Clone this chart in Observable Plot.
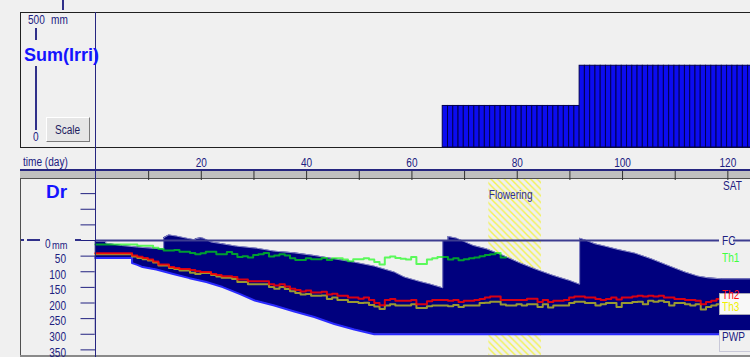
<!DOCTYPE html>
<html><head><meta charset="utf-8">
<script src="https://cdn.jsdelivr.net/npm/d3@7"></script>
<script src="https://cdn.jsdelivr.net/npm/@observablehq/plot@0.6"></script>
<style>
html,body{margin:0;padding:0;background:#f0f0f0;}
#wrap{position:relative;width:750px;height:357px;overflow:hidden;background:#f0f0f0;font-family:"Liberation Sans",Arial,sans-serif;color:#202080;}
.a{position:absolute;white-space:nowrap;}
.t{font-size:12px;line-height:12px;transform:scaleX(0.84);transform-origin:0 50%;}
svg{position:absolute;left:0;}
</style>
</head><body>
<div id="wrap">
  <!-- decorations behind -->
  <div class="a" style="left:62px;top:0;width:2px;height:10px;background:#30308a"></div>
  <div class="a" style="left:19.5px;top:12px;width:760px;height:133.5px;border:1.5px solid #202020;"></div>
  <div class="a" style="left:20px;top:169px;width:740px;height:1.5px;background:#262680"></div>
  <div class="a" style="left:20px;top:170.5px;width:740px;height:7.3px;background:#c0c0c0"></div>
  <div class="a" style="left:20px;top:177.7px;width:740px;height:1.6px;background:#505050"></div>
  <div class="a" style="left:19.5px;top:179px;width:1.5px;height:180px;background:#505050"></div>
  <div class="a" style="left:20px;top:354.5px;width:740px;height:2px;background:#8a8a8a"></div>
  <div id="top" class="a" style="left:0;top:0;width:750px;height:150px"></div>
  <div id="bot" class="a" style="left:0;top:150px;width:750px;height:207px"></div>
  <!-- vertical axis line -->
  <div class="a" style="left:94.6px;top:12px;width:1.6px;height:345px;background:#262680"></div>
  <!-- top panel labels -->
  <div class="a t" style="left:28px;top:14px">500</div>
  <div class="a t" style="left:51px;top:14px">mm</div>
  <div class="a" style="left:35px;top:28px;width:2px;height:12px;background:#30308a"></div>
  <div class="a" style="left:35px;top:66px;width:2px;height:64px;background:#30308a"></div>
  <div class="a" style="left:24px;top:44px;font-weight:bold;font-size:18px;line-height:22px;color:#1414ff">Sum(Irri)</div>
  <div class="a t" style="left:33px;top:131px">0</div>
  <div class="a" style="left:46px;top:117px;width:42px;height:23px;background:#e6e6e6;border:1px solid;border-color:#ffffff #7a7a7a #7a7a7a #ffffff;"></div>
  <div class="a t" style="left:55px;top:124px;color:#202060">Scale</div>
  <div class="a t" style="left:23px;top:156px">time (day)</div>
  <!-- bottom panel labels -->
  <div class="a" style="left:46px;top:181px;font-weight:bold;font-size:19px;line-height:22px;color:#1414ff">Dr</div>
  <div class="a" style="left:21px;top:239px;width:2.5px;height:1.6px;background:#30308a"></div>
  <div class="a" style="left:27px;top:239px;width:13px;height:1.6px;background:#30308a"></div>
  <div class="a" style="left:75px;top:239.2px;width:6px;height:1.4px;background:#30308a"></div>
  <div class="a t" style="left:45px;top:238px">0</div>
  <div class="a t" style="left:52px;top:239px;font-size:11px">mm</div>
  <div class="a t" style="left:723px;top:180px">SAT</div>
  <div class="a" style="left:719px;top:234px;width:14px;height:13px;background:#f0f0f0"></div>
  <div class="a t" style="left:722px;top:235px">FC</div>
  <div class="a t" style="left:722px;top:252px;color:#40ff40">Th1</div>
  <div class="a" style="left:719px;top:292.5px;width:40px;height:20px;background:#f8f8f8;border:1px solid #a8a8b8"></div>
  <div class="a t" style="left:722px;top:290px;line-height:10px;color:#ff1010">Th2</div>
  <div class="a t" style="left:722px;top:302px;line-height:10px;color:#f0f000">Th3</div>
  <div class="a" style="left:719px;top:330px;width:40px;height:20px;background:#f0f0f0;border:1px solid #c8c8d8"></div>
  <div class="a t" style="left:722px;top:331px">PWP</div>
</div>
<script>
// ---------- data ----------
const irriDays = [66, 92];            // irrigation events (day)
const irriAmounts = [155, 150];       // mm applied
const floweringDays = [74.6, 84.6];   // flowering period

const drDays = [0,2,2,5,8,11,13,13,14,15.5,17.3,19,19,20,20.5,21.2,22,24.2,26.8,30.6,34,37.8,41.6,45.4,49.2,53,56.8,58.7,60.6,61.6,63.5,66,66,67,67,68.6,69.9,71.8,74.3,77.5,80.6,83.8,87,90.1,92,92,93.3,94.9,96.8,99.3,102.5,105.6,108.8,112,114.5,116.4,118.9,125];
const drVals = [3,3,8.5,16,21,25,27,-8.5,-18,-14,-7.5,-2,-5.3,-8.5,-7.5,-2,5,10.7,18,24.5,34,39.5,48,58.7,69.3,82,101,117,126,131,139,151.5,0,0,-12.8,-7.5,2,16,26.7,48,71.5,92.8,112,128,140,-7.5,0,10.7,18,28.8,40.5,58.7,80,101,114,119.5,122.7,122.7];

const tawDays = [0,7,7,8,9,11.6,14.8,17.9,21.1,24.2,27.4,30.3,34,37.8,41.6,45.4,49.2,53,125];
const tawVals = [56,56,72.5,78,85,93,107,120.5,133,149,171,192,208,227,245,267,285,300,300];

const th1Days = [0,8,11,12,13,15,16,18,19,20,21,23,25,26,27,28,29,30,31,32,33,34,35,36,37,38,40,41,43,44,45,47,48,49,51,52,53,54,55,56,57,58,59,60,61,63,64,65,67,68,69,70,71,72,73,74,75,76,77,78];
const th1Vals = [13,17,23,27,32,30,36,40,44,41,36,44,37,43,53,50,54,46,44,40,51,48,44,48,57,62,57,60,56,62,57,61,66,60,57,61,69,77,54,51,56,58,61,53,75,61,57,53,61,57,63,60,57,54,50,46,44,40,54,54];

const th23Days = [0,7,8,9,10,11,12,14,15,16,18,19,20,22,23,24,26,27,29,33,34,35,36,37,38,39,40,41,43,44,45,46,48,50,51,52,53,54,55,56,57,60,61,63,64,67,68,69,70,72,73,74,75,77,78,80,81,82,84,85,86,87,89,90,91,93,95,96,97,98,99,100,102,103,104,105,106,107,108,109,110,112,113,114,115,116,117,118,120,125];
const th2Vals = [41,48,52,56,61,67,77,85,88,91,94,98,101,107,110,114,117,125,130,140,144,140,147,154,158,163,160,166,164,173,170,177,182,186,182,190,200,207,190,187,193,190,204,194,190,193,190,197,193,190,187,182,179,190,190,190,190,186,197,190,197,193,190,182,179,182,187,190,187,182,189,182,179,177,179,177,179,177,182,182,187,190,190,193,204,197,193,187,182,182];
const th3Vals = [44,51,56,60,64,70,80,88,91,96,103,107,104,110,115,119,123,133,140,149,154,149,155,162,168,173,171,177,176,187,182,190,197,200,199,206,211,219,208,204,208,204,216,210,208,210,206,213,208,208,200,199,196,205,208,204,208,204,213,204,214,208,208,200,196,200,208,204,200,200,213,200,197,196,204,193,196,193,197,208,200,204,208,204,221,213,208,204,197,197];

const timeTicks = [10,20,30,40,50,60,70,80,90,100,110,120];
const drTicks = [-150,-100,-50,0,50,100,150,200,250,300,350];
const FC = 0, PWP = 300;

// ---------- build tables ----------
const OFF = 0.15;
const zip = (xs, ys) => xs.map((d, i) => ({day: d - OFF, v: ys[i]}));
const dr = zip(drDays, drVals);
const taw = zip(tawDays, tawVals);
const tawMask = taw.filter(d => d.day < 53);
const th1 = zip(th1Days, th1Vals);
const th2 = zip(th23Days, th2Vals);
const th3 = zip(th23Days, th3Vals);
const sumIrri = [];
let cum = 0;
for (let d = 0; d <= 124; d++) {
  const k = irriDays.indexOf(d);
  if (k >= 0) cum += irriAmounts[k];
  if (cum > 0) sumIrri.push({day: d - OFF, sum: cum});
}

const XDOM = [0, 124.3];
const font = "'Liberation Sans',Arial,sans-serif";

const topPlot = Plot.plot({
  width: 750, height: 150,
  marginLeft: 95.5, marginRight: 0, marginTop: 13, marginBottom: 3,
  x: {domain: XDOM, axis: null},
  y: {domain: [0, 500], axis: null},
  style: {background: "transparent", overflow: "visible"},
  marks: [
    Plot.rectY(sumIrri, {x1: "day", x2: d => d.day + 1, y: "sum", fill: "#0c0cf0", stroke: "#000050", strokeWidth: 1})
  ]
});
document.getElementById("top").appendChild(topPlot);

const botPlot = Plot.plot({
  width: 750, height: 207,
  marginLeft: 95.5, marginRight: 0, marginTop: 29, marginBottom: 2,
  x: {domain: XDOM, axis: "top", ticks: timeTicks, tickSize: 9, tickPadding: 4,
      tickFormat: d => d % 20 === 0 ? String(d) : "", label: null},
  y: {domain: [-195.2, 368], reverse: true, ticks: drTicks, tickSize: 15, tickPadding: 15,
      tickFormat: d => d <= 0 ? "" : String(d), label: null},
  style: {background: "transparent", color: "#202080", fontSize: "12px", fontFamily: font, overflow: "visible"},
  marks: [
    Plot.rect([floweringDays], {x1: d => d[0], x2: d => d[1], y1: -195.2, y2: 368, fill: "url(#hatch)"}),
    Plot.areaY(dr, {x: "day", y1: "v", y2: PWP, fill: "#00007e"}),
    Plot.areaY(tawMask, {x: "day", y1: "v", y2: PWP + 3, fill: "#f0f0f0"}),
    Plot.line(dr, {x: "day", y: "v", stroke: "#8c8cc8", strokeWidth: 1}),
    Plot.line(taw, {x: "day", y: "v", stroke: "#2a2aff", strokeWidth: 2}),
    Plot.ruleY([FC], {stroke: "#3c3c90", strokeWidth: 2}),
    Plot.line(th1, {x: "day", y: "v", curve: "step-after", stroke: "#00ff00", strokeOpacity: 0.62, strokeWidth: 2}),
    Plot.line(th3, {x: "day", y: "v", curve: "step-after", stroke: "#ffff00", strokeOpacity: 0.6, strokeWidth: 2}),
    Plot.line(th2, {x: "day", y: "v", curve: "step-after", stroke: "#ff0000", strokeOpacity: 0.85, strokeWidth: 2}),
    Plot.text(["Flowering"], {x: floweringDays[0], y: -146, text: d => d, textAnchor: "start", fill: "#303088", fontSize: 12})
  ]
});
// hatch pattern
const ns = "http://www.w3.org/2000/svg";
const defs = document.createElementNS(ns, "defs");
defs.innerHTML = '<pattern id="hatch" patternUnits="userSpaceOnUse" width="6.6" height="6.6">' +
  '<path d="M-1,-1L7.6,7.6M-1,5.6L1,7.6M5.6,-1L7.6,1" stroke="#f2f250" stroke-width="1.4"/></pattern>';
botPlot.insertBefore(defs, botPlot.firstChild);
document.getElementById("bot").appendChild(botPlot);

// y tick labels sit a little below their ticks, as in the original
function shiftTexts(g, dy) {
  g.querySelectorAll("text").forEach(t => {
    const tr = t.getAttribute("transform");
    const re = /translate\(\s*([-\d.e]+)[,\s]+([-\d.e]+)\s*\)/;
    if (tr && re.test(tr)) {
      t.setAttribute("transform", tr.replace(re, (m, a, b) => `translate(${a},${+b + dy})`));
    } else {
      t.setAttribute("y", (parseFloat(t.getAttribute("y")) || 0) + dy);
    }
  });
}
botPlot.querySelectorAll('g[aria-label^="y-axis"]').forEach(g => shiftTexts(g, 3));
botPlot.querySelectorAll('g[aria-label^="x-axis"] line, g[aria-label^="x-axis"] path').forEach(l => l.setAttribute("stroke", "#303030"));
// narrow the glyphs like the original bitmap font
botPlot.querySelectorAll("text").forEach(t => {
  const L = t.getComputedTextLength();
  if (L > 0) { t.setAttribute("textLength", (L * 0.84).toFixed(1)); t.setAttribute("lengthAdjust", "spacingAndGlyphs"); }
});
</script>
</body></html>
